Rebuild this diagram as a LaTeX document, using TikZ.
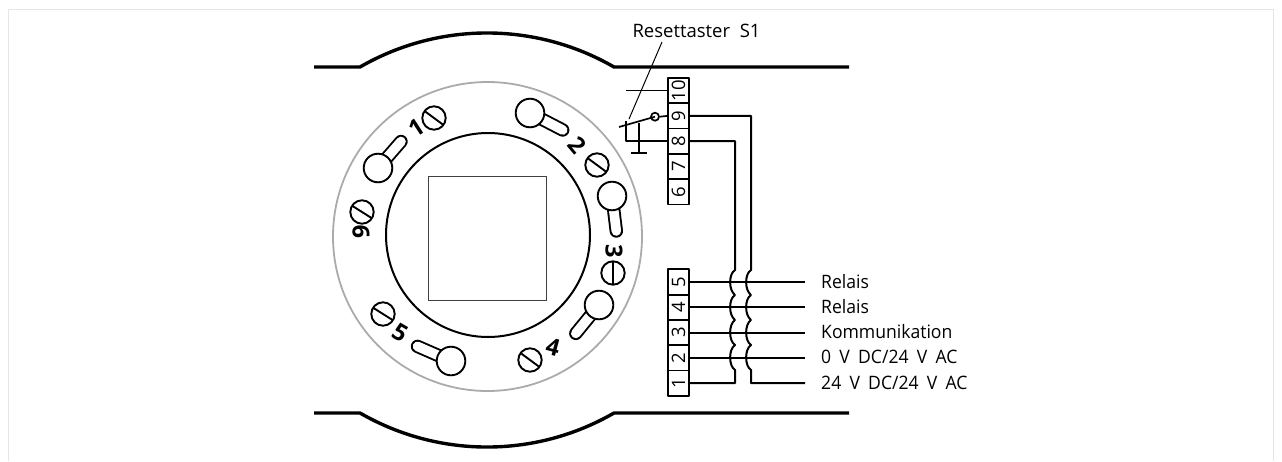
\documentclass[tikz,border=0pt]{standalone}
\usepackage{fontspec}
\setmainfont{Open Sans}
\newfontfamily\lblfont[FakeStretch=0.95,WordSpace=1.8]{Open Sans}
\newfontfamily\rstfont[WordSpace=2]{Open Sans}
\tikzset{
  x=1pt,y=-1pt,
  housing/.style={line width=3.4pt,line join=round},
  wire/.style={line width=2pt,line join=round},
  thinw/.style={line width=1.7pt,line join=round},
  cell/.style={draw,line width=1.8pt,line join=round,minimum width=21pt,minimum height=25.3pt,inner sep=0pt,font=\fontsize{18.5}{18.5}\selectfont},
  lbl/.style={anchor=west,inner sep=0pt,font=\lblfont\fontsize{18.5}{20}\selectfont},
  num/.style={inner sep=0pt,font=\fontsize{23.5}{23.5}\selectfont\bfseries},
}
\newcommand{\screwat}[4]{% x y dx dy
  \draw[line width=1.9pt] (#1,#2) circle[radius=11.7];
  \draw[line width=1.9pt] (#1-#3,#2-#4) -- (#1+#3,#2+#4);
}
\newcommand{\keyhole}[4]{% cx cy ex ey
  \draw[line width=13.4pt,line cap=round] (#1,#2) -- (#3,#4);
  \draw[line width=9.6pt,line cap=round,white] (#1,#2) -- (#3,#4);
  \draw[line width=1.9pt,fill=white] (#1,#2) circle[radius=14.3];
}
\begin{document}
\begin{tikzpicture}
\useasboundingbox (0,0) rectangle (1282,461);
% frame
\draw[line width=1pt,color=black!10] (8.5,461) -- (8.5,9.5) -- (1273.5,9.5) -- (1273.5,461);
% housing
\draw[housing] (314,67) -- (360,67) arc[start angle=-120,end angle=-60,radius=254] -- (849,67);
\draw[housing] (314,413) -- (360,413) arc[start angle=120,end angle=60,radius=254] -- (849,413);
% ring and centre
\draw[line width=1.8pt,color=black!33] (487.5,236.5) circle[radius=154.5];
\draw[line width=2pt] (488,235) circle[radius=102];
\draw[line width=1pt,color=black!75] (428,176) rectangle (546,300);
% screws
\screwat{434}{118}{9.5}{7}
\screwat{362}{212}{9.5}{6}
\screwat{597}{165}{9.5}{7}
\screwat{613}{273}{0}{11.7}
\screwat{530}{360}{9.5}{7}
\screwat{383}{314}{9.5}{6}
% keyholes
\keyhole{378}{168}{401}{141.5}
\keyhole{530}{113}{562.7}{130}
\keyhole{612}{196}{616.3}{231}
\keyhole{599}{305}{575.8}{333.4}
\keyhole{451}{361}{417.5}{346.4}
% digits
\node[num,rotate=33] (n1) at (417,128) {1};
\node[num,rotate=-50] (n2) at (577,145) {2};
\node[num,rotate=-90] (n3) at (614,251) {3};
\node[num,rotate=-15] (n4) at (553,347) {4};
\node[num,rotate=-30] (n5) at (400,333) {5};
\node[num,rotate=90] (n9) at (361,232) {9};
% terminals top
\node[cell] (t10) at (678.5,90.6) {\rotatebox{90}{10}};
\node[cell] (t9) at (678.5,115.9) {\rotatebox{90}{9}};
\node[cell] (t8) at (678.5,141.2) {\rotatebox{90}{8}};
\node[cell] (t7) at (678.5,166.5) {\rotatebox{90}{7}};
\node[cell] (t6) at (678.5,191.8) {\rotatebox{90}{6}};
% terminals bottom
\node[cell] (b5) at (678.5,282) {\rotatebox{90}{5}};
\node[cell] (b4) at (678.5,307.3) {\rotatebox{90}{4}};
\node[cell] (b3) at (678.5,332.6) {\rotatebox{90}{3}};
\node[cell] (b2) at (678.5,357.9) {\rotatebox{90}{2}};
\node[cell] (b1) at (678.5,383.2) {\rotatebox{90}{1}};
% labels
\node[lbl] (l5) at (821,282) {Relais};
\node[lbl] (l4) at (821,306.5) {Relais};
\node[lbl] (l3) at (821,332) {Kommunikation};
\node[lbl] (l2) at (821,357) {0 V DC/24 V AC};
\node[lbl] (l1) at (821,382.5) {24 V DC/24 V AC};
\node[anchor=center,inner sep=0pt,font=\rstfont\fontsize{18.5}{20}\selectfont] (rs) at (696.5,31) {Resettaster S1};
% free ends
\coordinate (e5) at (805,282);
\coordinate (e4) at (805,307.3);
\coordinate (e3) at (805,332.6);
\coordinate (e2) at (805,357.9);
\coordinate (e1) at (805,383.2);
\draw[wire] (b5.east) -- (e5);
\draw[wire] (b4.east) -- (e4);
\draw[wire] (b3.east) -- (e3);
\draw[wire] (b2.east) -- (e2);
% wire 8 to 1
\draw[wire] (t8.east) -- (735,141.2) -- (735,270)
  .. controls (728.5,274) and (728.5,290) .. (735,295)
  .. controls (728.5,299) and (728.5,315) .. (735,320)
  .. controls (728.5,324) and (728.5,341) .. (735,345)
  .. controls (728.5,349) and (728.5,366) .. (735,370)
  -- (735,383.2) -- (b1.east);
% wire 9 to 24 V
\draw[wire] (t9.east) -- (751,115.9) -- (751,270)
  .. controls (744.5,274) and (744.5,290) .. (751,295)
  .. controls (744.5,299) and (744.5,315) .. (751,320)
  .. controls (744.5,324) and (744.5,341) .. (751,345)
  .. controls (744.5,349) and (744.5,366) .. (751,370)
  -- (751,383.2) -- (e1);
% switch
\node[draw,circle,line width=1.7pt,minimum size=8pt,inner sep=0pt] (sw) at (655,116.7) {};
\coordinate (sa) at (626,90.6);
\coordinate (sb) at (619,127);
\coordinate (sc) at (626,121);
\coordinate (sd) at (639,122.5);
\coordinate (se) at (639,153);
\coordinate (sf) at (631,153);
\coordinate (sg) at (647,153);
\coordinate (ra) at (662,42);
\coordinate (rb) at (629,119);
\draw[thinw] (t10.west) -- (sa);
\draw[thinw] (t9.west) -- (sw.east);
\draw[thinw] (sb) -- (sw.center);
\draw[thinw] (sc) -- (626,141.2) -- (t8.west);
\draw[thinw] (sd) -- (se);
\draw[thinw] (sf) -- (sg);
\draw[line width=1pt] (ra) -- (rb);
\end{tikzpicture}
\end{document}
